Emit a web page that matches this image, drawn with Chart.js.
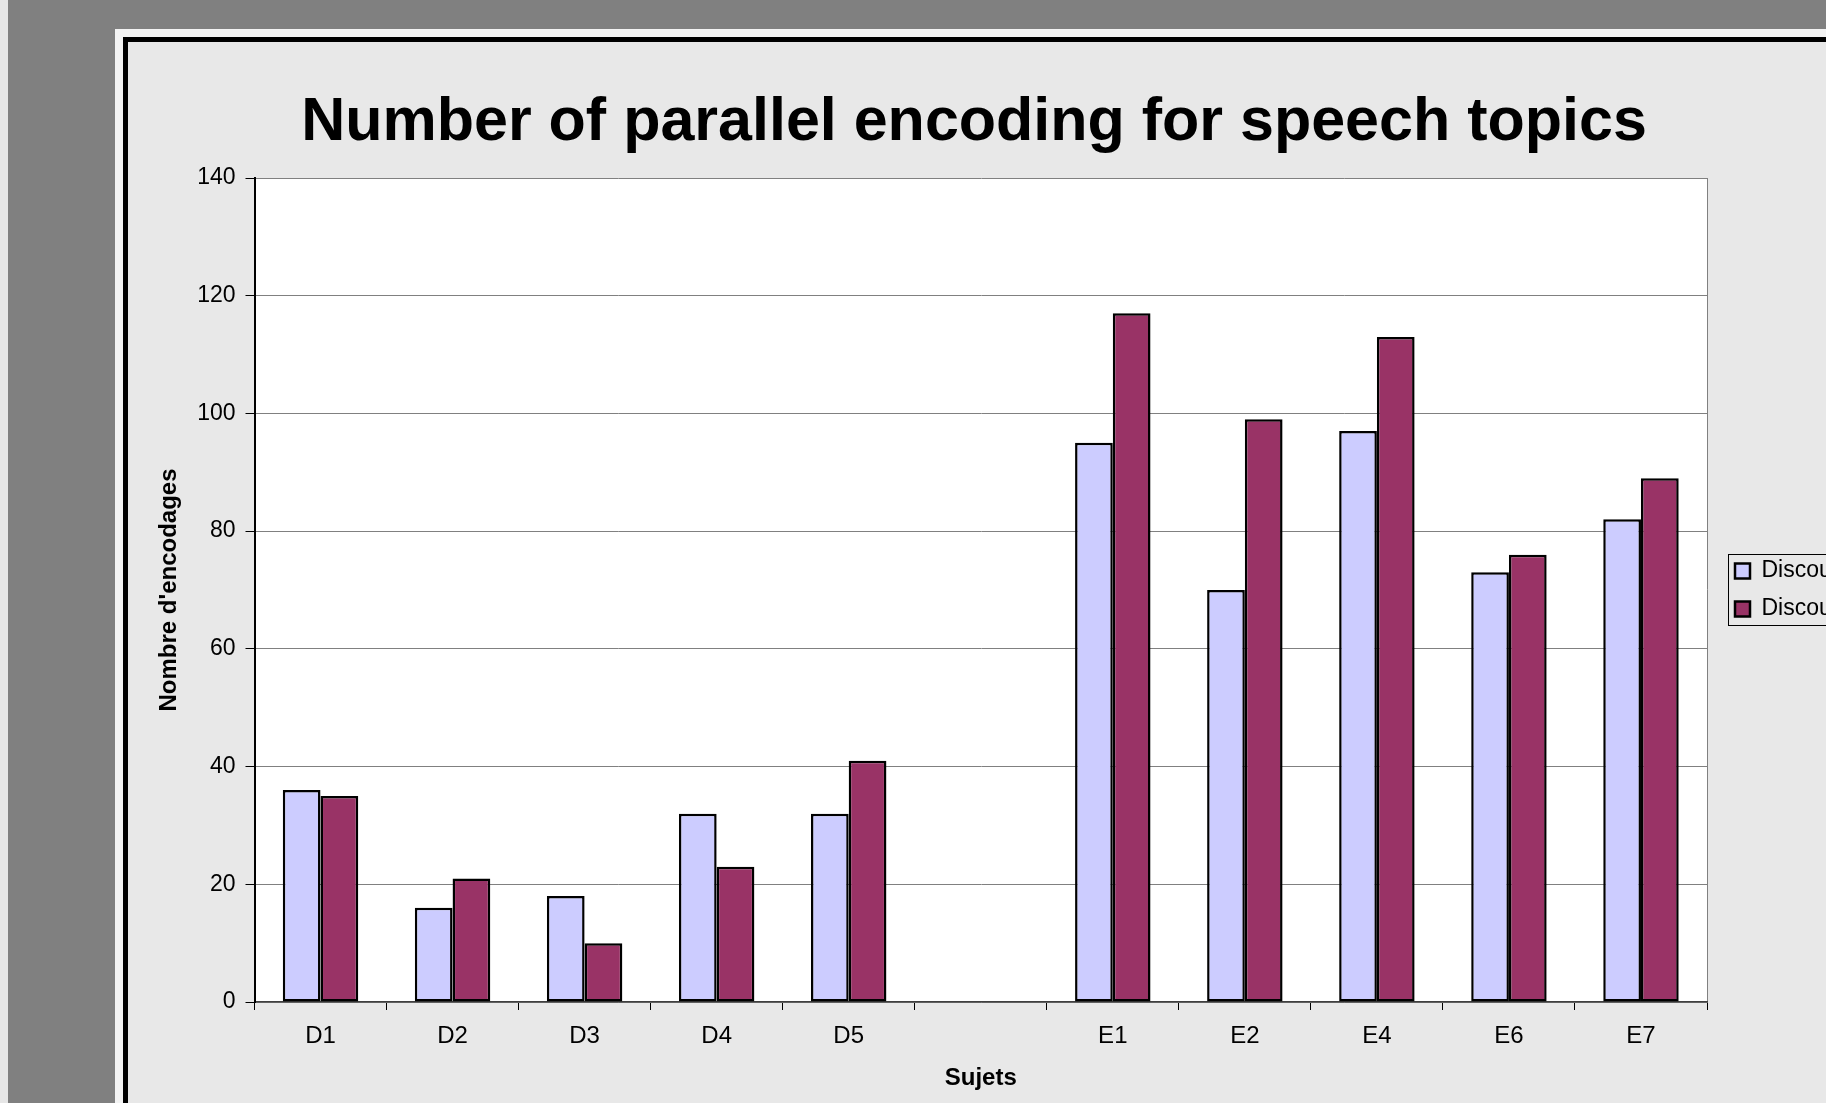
<!DOCTYPE html>
<html>
<head>
<meta charset="utf-8">
<script src="https://cdn.jsdelivr.net/npm/chart.js@4.4.1/dist/chart.umd.min.js"></script>
<style>
  html, body { margin: 0; padding: 0; width: 1826px; height: 1103px; overflow: hidden; background: #808080; }
  .strip { position: absolute; left: 0; top: 0; width: 8px; height: 1103px; background: #e6e6e6; }
  .sheet { position: absolute; left: 115px; top: 29px; width: 2000px; height: 2000px; background: #f3f3f3; }
  .rule  { position: absolute; left: 123px; top: 37px; width: 2000px; height: 2000px; background: #000; }
  .panel { position: absolute; left: 128px; top: 42px; width: 2000px; height: 2000px; background: #e8e8e8; }
  #chart { position: absolute; left: 0; top: 0; }
</style>
</head>
<body>
<div class="strip"></div>
<div class="sheet"></div>
<div class="rule"></div>
<div class="panel"></div>
<canvas id="chart" width="1948" height="1103"></canvas>
<script>
// Subjects (an empty slot separates the D group from the E group)
const categories = ['D1', 'D2', 'D3', 'D4', 'D5', '', 'E1', 'E2', 'E4', 'E6', 'E7'];
const seriesNames = ['Discours 1', 'Discours 2'];
const seriesA = [36, 16, 18, 32, 32, null, 95, 70, 97, 73, 82];
const seriesB = [35, 21, 10, 23, 41, null, 117, 99, 113, 76, 89];
const yTicks = [0, 20, 40, 60, 80, 100, 120, 140];

const FONT = '"Liberation Sans", Arial, Helvetica, sans-serif';
Chart.defaults.font.family = FONT;
Chart.defaults.color = '#000';

// Canvas geometry and plot frame
const W = 1948, H = 1103;
const plotLeft = 254.5, plotRight = 1707, plotTop = 178, plotBottom = 1002;
const titleCenterX = 974;

// Legend metrics
const legendFont = 23, legendPad = 15, legendBox = 15, legendGap = 13;
const meas = document.createElement('canvas').getContext('2d');
meas.font = legendFont + 'px ' + FONT;
const textW = Math.max(...seriesNames.map(s => meas.measureText(s).width));
const legendW = legendPad + legendBox + legendFont / 2 + textW + 10;
const padRight = W - plotRight - legendGap - legendW;
const padLeft = 2 * titleCenterX - W + padRight;

const titleSize = 61, titleLH = titleSize * 1.2;
const titlePadTop = 86.3;
const axisTitleSize = 24, axisTitleLH = axisTitleSize * 1.2;

const plotBackground = {
  id: 'plotBackground',
  beforeDraw(chart) {
    const { ctx, chartArea: a } = chart;
    ctx.save();
    ctx.fillStyle = '#ffffff';
    ctx.fillRect(a.left, a.top, a.right - a.left, a.bottom - a.top);
    ctx.restore();
  }
};

const legendFrame = {
  id: 'legendFrame',
  afterDraw(chart) {
    const boxes = chart.legend && chart.legend.legendHitBoxes;
    if (!boxes || !boxes.length) return;
    const first = boxes[0], last = boxes[boxes.length - 1];
    const { ctx } = chart;
    const x = Math.round(first.left - 7) + 0.5;
    const y = Math.round(first.top - 6) + 0.5;
    const b = Math.round(last.top + last.height + 4) + 0.5;
    const r = chart.legend.right - 2;
    ctx.save();
    ctx.strokeStyle = '#000';
    ctx.lineWidth = 1;
    ctx.strokeRect(x, y, r - x, b - y);
    ctx.restore();
  }
};

new Chart(document.getElementById('chart'), {
  type: 'bar',
  data: {
    labels: categories,
    datasets: [
      { label: seriesNames[0], data: seriesA, backgroundColor: '#ccccff', borderColor: '#000', borderWidth: 2.5, borderSkipped: false },
      { label: seriesNames[1], data: seriesB, backgroundColor: '#993366', borderColor: '#000', borderWidth: 2.5, borderSkipped: false }
    ]
  },
  options: {
    responsive: false,
    devicePixelRatio: 1,
    animation: false,
    datasets: { bar: { categoryPercentage: 2 / 3.5, barPercentage: 1 } },
    layout: { padding: { left: padLeft, right: padRight, top: 0, bottom: 0 } },
    plugins: {
      title: {
        display: true,
        text: 'Number of parallel encoding for speech topics',
        color: '#000',
        font: { size: titleSize, weight: 'bold', lineHeight: 1.2 },
        padding: { top: titlePadTop, bottom: plotTop - titlePadTop - titleLH }
      },
      legend: {
        position: 'right',
        fullSize: false,
        align: 'center',
        labels: {
          color: '#000',
          font: { size: legendFont },
          boxWidth: legendBox,
          boxHeight: legendBox,
          padding: legendPad
        }
      },
      tooltip: { enabled: false }
    },
    scales: {
      x: {
        offset: true,
        grid: {
          offset: true,
          drawOnChartArea: true,
          color: c => (c.type === 'tick' ? 'rgba(0,0,0,0)' : '#808080'),
          tickColor: '#000',
          tickLength: 8,
          lineWidth: 1
        },
        border: { display: true, color: '#404040', width: 1.5 },
        ticks: { font: { size: 24 }, color: '#000', padding: 12.3, maxRotation: 0, autoSkip: false },
        title: {
          display: true,
          text: 'Sujets',
          color: '#000',
          font: { size: axisTitleSize, weight: 'bold', lineHeight: 1.2 },
          padding: { top: 0, bottom: 9.9 }
        },
        afterFit: s => { s.height = H - plotBottom; }
      },
      y: {
        min: yTicks[0],
        max: yTicks[yTicks.length - 1],
        afterBuildTicks: s => { s.ticks = yTicks.map(v => ({ value: v })); },
        grid: { color: '#808080', tickColor: '#000', tickLength: 9, lineWidth: 1 },
        border: { display: true, color: '#000', width: 2 },
        ticks: { font: { size: 23 }, color: '#000', padding: 10 },
        title: {
          display: true,
          text: "Nombre d'encodages",
          color: '#000',
          font: { size: axisTitleSize, weight: 'bold', lineHeight: 1.2 },
          padding: { top: 169 - padLeft - axisTitleLH / 2, bottom: 0 }
        },
        afterFit: s => { s.width = plotLeft - padLeft; }
      },
      gap: {
        type: 'linear',
        position: 'right',
        display: true,
        grid: { display: false },
        border: { display: false },
        ticks: { display: false },
        afterFit: s => { s.width = legendGap; }
      }
    }
  },
  plugins: [plotBackground, legendFrame]
});
</script>
</body>
</html>
